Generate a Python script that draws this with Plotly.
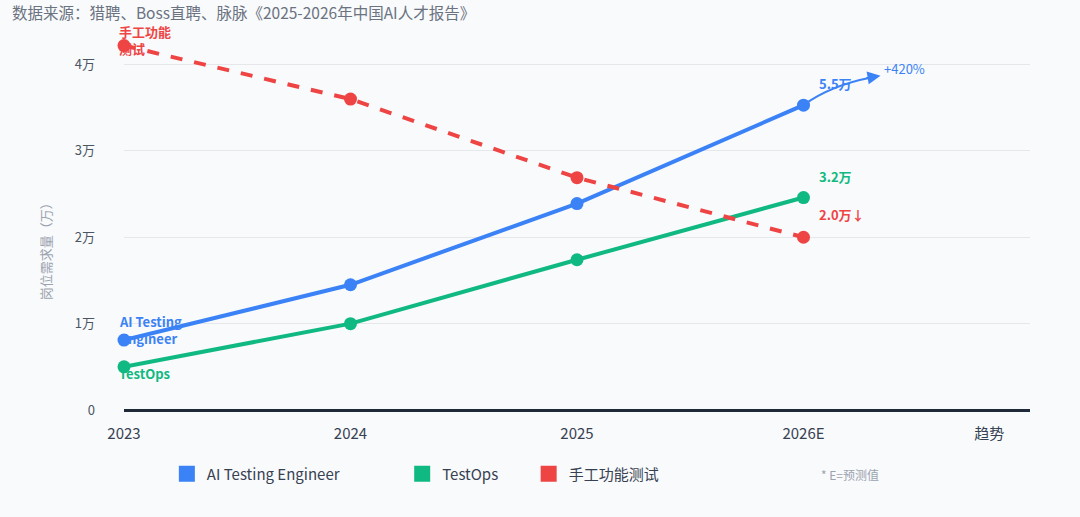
import plotly.graph_objects as go

# data (万)
years = ["2023", "2024", "2025", "2026E"]
tick_labels = ["2023", "2024", "2025", "2026E", "趋势"]
ai_engineer = [0.81, 1.45, 2.39, 3.53]
test_ops = [0.50, 1.00, 1.74, 2.46]
manual_test = [4.22, 3.60, 2.69, 2.00]

BLUE = "#3b82f6"
GREEN = "#10b981"
RED = "#ef4444"
FONT = "Noto Sans CJK SC"

x_pos = list(range(len(years)))
tick_pos = x_pos + [3.82]

fig = go.Figure()

fig.add_trace(go.Scatter(x=x_pos, y=ai_engineer, mode="lines+markers",
                         line=dict(color=BLUE, width=4),
                         marker=dict(size=13, color=BLUE),
                         cliponaxis=False, showlegend=False))
fig.add_trace(go.Scatter(x=x_pos, y=test_ops, mode="lines+markers",
                         line=dict(color=GREEN, width=4),
                         marker=dict(size=13, color=GREEN),
                         cliponaxis=False, showlegend=False))
fig.add_trace(go.Scatter(x=x_pos, y=manual_test, mode="lines+markers",
                         line=dict(color=RED, width=4, dash="dash"),
                         marker=dict(size=13, color=RED),
                         cliponaxis=False, showlegend=False))

# legend entries, each in its own legend box so they can be spaced like the original
legend_items = [("AI Testing Engineer", BLUE, "legend", 0.1545),
                ("TestOps", GREEN, "legend2", 0.3724),
                ("手工功能测试", RED, "legend3", 0.4895)]
for name, col, leg, _ in legend_items:
    fig.add_trace(go.Scatter(x=[None], y=[None], mode="markers", name=name,
                             marker=dict(symbol="square", size=16, color=col),
                             legend=leg))

leg_style = dict(orientation="h", yanchor="middle", y=0.083, xanchor="left",
                 bgcolor="rgba(0,0,0,0)", font=dict(size=15, color="#374151", family=FONT),
                 itemwidth=30, xref="container", yref="container")
fig.update_layout(
    legend=dict(leg_style, x=legend_items[0][3]),
    legend2=dict(leg_style, x=legend_items[1][3]),
    legend3=dict(leg_style, x=legend_items[2][3]),
)

# series labels
fig.add_annotation(x=0, y=manual_test[0], text="<b>手工功能<br>测试</b>", showarrow=False,
                   xanchor="left", yanchor="middle", xshift=-7, yshift=6,
                   align="left", font=dict(color=RED, size=13, family=FONT))
fig.add_annotation(x=0, y=ai_engineer[0], text="<b>AI Testing<br>Engineer</b>", showarrow=False,
                   xanchor="left", yanchor="middle", xshift=-7, yshift=10,
                   align="left", font=dict(color=BLUE, size=13, family=FONT))
fig.add_annotation(x=0, y=test_ops[0], text="<b>TestOps</b>", showarrow=False,
                   xanchor="left", yanchor="top", xshift=-7, yshift=5,
                   align="left", font=dict(color=GREEN, size=13, family=FONT))

fig.add_annotation(x=3, y=ai_engineer[3], text="<b>5.5万</b>", showarrow=False,
                   xanchor="left", yanchor="middle", xshift=13, yshift=22,
                   font=dict(color=BLUE, size=13, family=FONT))
fig.add_annotation(x=3, y=test_ops[3], text="<b>3.2万</b>", showarrow=False,
                   xanchor="left", yanchor="middle", xshift=13, yshift=21,
                   font=dict(color=GREEN, size=13, family=FONT))
fig.add_annotation(x=3, y=manual_test[3], text="<b>2.0万↓</b>", showarrow=False,
                   xanchor="left", yanchor="middle", xshift=13, yshift=23,
                   font=dict(color=RED, size=13, family=FONT))

# trend arrow
fig.add_shape(type="path", path="M 3 3.53 Q 3.12 3.76 3.3 3.85",
              line=dict(color=BLUE, width=2), layer="above")
fig.add_annotation(x=3.34, y=3.87, ax=3.27, ay=3.84, xref="x", yref="y", axref="x", ayref="y",
                   text="", showarrow=True, arrowhead=2, arrowsize=1.3, arrowwidth=2,
                   arrowcolor=BLUE)
fig.add_annotation(x=3.34, y=3.87, text="+420%", showarrow=False, xanchor="left",
                   yanchor="middle", xshift=1, yshift=7,
                   font=dict(color=BLUE, size=13, family=FONT))

fig.add_annotation(xref="paper", yref="paper", x=0.767, y=-0.171, text="* E=预测值",
                   showarrow=False, xanchor="left", yanchor="middle",
                   font=dict(color="#9ca3af", size=12, family=FONT))

# y axis title placed by hand so it sits a bit lower, like the original
fig.add_annotation(xref="paper", yref="paper", x=-0.087, y=0.426, text="岗位需求量（万）",
                   textangle=-90, showarrow=False, xanchor="center", yanchor="middle",
                   font=dict(color="#9ca3af", size=13, family=FONT))

fig.update_layout(
    width=1080, height=517,
    margin=dict(l=124, r=50, t=30, b=107, autoexpand=False),
    paper_bgcolor="#f8fafc", plot_bgcolor="#f8fafc",
    font=dict(family=FONT, color="#4b5563"),
    title=dict(text="数据来源：猎聘、Boss直聘、脉脉《2025-2026年中国AI人才报告》",
               x=0.011, xanchor="left", y=0.973, yanchor="middle",
               font=dict(size=15.5, color="#6b7280", family=FONT)),
    xaxis=dict(range=[0, 4], tickvals=tick_pos, ticktext=tick_labels,
               showgrid=False, zeroline=False, showline=False,
               tickfont=dict(size=15, color="#374151"), ticklabelstandoff=13),
    yaxis=dict(range=[0, 4.4], tickvals=[0, 1, 2, 3, 4],
               ticktext=["0", "1万", "2万", "3万", "4万"],
               showgrid=True, gridcolor="#e5e7eb", gridwidth=1,
               zeroline=True, zerolinecolor="#1f2937", zerolinewidth=2.5,
               tickfont=dict(size=13, color="#4b5563"), ticklabelstandoff=28),
)

fig.write_html("out.html", config={"displayModeBar": False},
               post_script="document.body.style.margin='0';")
